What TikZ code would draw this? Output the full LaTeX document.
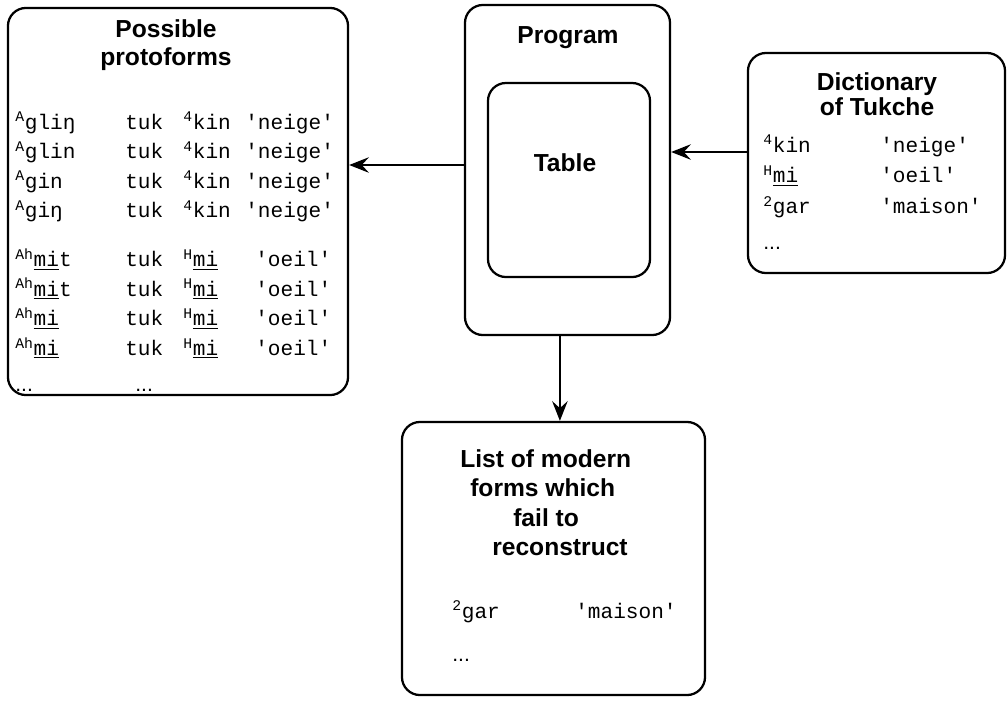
\documentclass[tikz,border=0pt]{standalone}
\usepackage{fontspec}
\setmainfont{Liberation Serif}
\setsansfont{Liberation Sans}
\setmonofont{Liberation Mono}
\usetikzlibrary{arrows.meta}

% tone letter written before a form
\newcommand{\tone}[1]{\textsuperscript{#1}}

\tikzset{
	box/.style={draw, line width=1.6pt, rounded corners=0.45cm, inner sep=0pt},
	title/.style={font=\sffamily\bfseries\fontsize{17.5}{20}\selectfont, inner sep=0pt, align=center},
	entries/.style={font=\ttfamily\fontsize{15}{21}\selectfont, inner sep=0pt, anchor=base west},
	flow/.style={-{Stealth[length=14pt,width=11pt,inset=5pt]}, line width=1.6pt}
}

\begin{document}
\begin{tikzpicture}[x=0.025cm,y=-0.025cm]
	\useasboundingbox (0,0) rectangle (1008,700);

	% The boxes
	\node[box, minimum width=8.5cm, minimum height=9.675cm] (proto) at (178,201.5) {};
	\node[box, minimum width=5.125cm, minimum height=8.25cm] (prog) at (567.5,170) {};
	\node[box, minimum width=4.05cm, minimum height=4.85cm] (table) at (569,180) {};
	\node[box, minimum width=6.425cm, minimum height=5.5cm] (dict) at (876.5,163) {};
	\node[box, minimum width=7.575cm, minimum height=6.825cm] (fails) at (553.5,558.5) {};

	% Titles
	\node[title, anchor=north] (protoTitle) at (166,19) {Possible\\protoforms};
	\node[title, anchor=north] (progTitle) at (568,26) {Program};
	\node[title, anchor=north] (tableTitle) at (565,153) {Table};
	\node[title, anchor=north] (dictTitle) at (877,72) {Dictionary\\[-2pt]of Tukche};
	\node[title, anchor=north west, align=left, font=\sffamily\bfseries\fontsize{17.5}{21}\selectfont] (failTitle) at (460,449)
		{List of modern\\\hspace*{0.25cm}forms which\\\hspace*{1.325cm}fail to\\\hspace*{0.8cm}reconstruct};

	% Possible protoforms
	\node[entries] (protoList) at (15,129) {\begin{tabular}[t]{@{}p{2.75cm}@{}p{1.45cm}@{}p{1.55cm}@{}l@{}}
		\tone{A}gliŋ & tuk & \tone{4}kin & 'neige'\\
		\tone{A}glin & tuk & \tone{4}kin & 'neige'\\
		\tone{A}gin  & tuk & \tone{4}kin & 'neige'\\
		\tone{A}giŋ  & tuk & \tone{4}kin & 'neige'\\[14pt]
		\tone{Ah}\underline{mi}t & tuk & \tone{H}\underline{mi} & \hspace*{0.25cm}'oeil'\\
		\tone{Ah}\underline{mi}t & tuk & \tone{H}\underline{mi} & \hspace*{0.25cm}'oeil'\\
		\tone{Ah}\underline{mi}  & tuk & \tone{H}\underline{mi} & \hspace*{0.25cm}'oeil'\\
		\tone{Ah}\underline{mi}  & tuk & \tone{H}\underline{mi} & \hspace*{0.25cm}'oeil'\\[5pt]
		\textsf{...} & \hspace*{0.25cm}\textsf{...} & & \\
	\end{tabular}};

	% Dictionary of Tukche
	\node[entries] (dictList) at (763,152) {\begin{tabular}[t]{@{}p{2.925cm}@{}l@{}}
		\tone{4}kin & 'neige'\\[1pt]
		\tone{H}\underline{mi} & 'oeil'\\[1pt]
		\tone{2}gar & 'maison'\\[4pt]
		\textsf{...} & \\
	\end{tabular}};

	% Forms which fail
	\node[entries] (failList) at (452,618) {\begin{tabular}[t]{@{}p{3.075cm}@{}l@{}}
		\tone{2}gar & 'maison'\\[10pt]
		\textsf{...} & \\
	\end{tabular}};

	% Arrows
	\coordinate (progOut) at ([yshift=0.125cm]prog.west);
	\coordinate (dictOut) at ([yshift=0.275cm]dict.west);
	\coordinate (progBot) at ([xshift=-0.19cm]prog.south);
	\draw[flow] (progOut) -- (progOut -| proto.east);
	\draw[flow] (dictOut) -- (dictOut -| prog.east);
	\draw[flow] (progBot) -- (progBot |- fails.north);
\end{tikzpicture}
\end{document}
